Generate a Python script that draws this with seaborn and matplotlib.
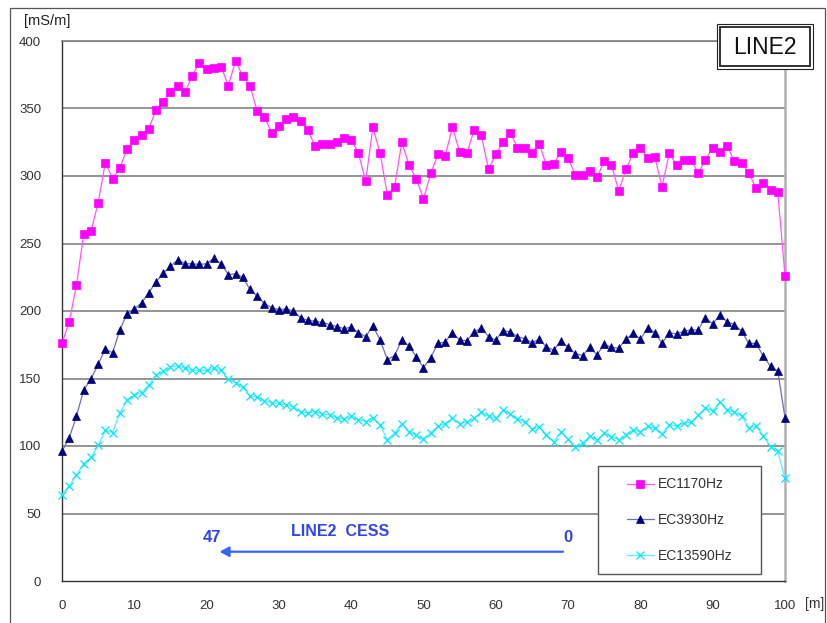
import matplotlib
matplotlib.use("Agg")
import matplotlib.pyplot as plt
from matplotlib.patches import Rectangle
from matplotlib.lines import Line2D
import seaborn as sns
import numpy as np

# Distance along the survey line [m]
distance = list(range(0, 101))

ec1170 = [176, 192, 219, 257, 259, 280, 310, 298, 306, 320,
          327, 330, 335, 349, 355, 362, 367, 362, 374, 384,
          379, 380, 381, 367, 385, 374, 367, 348, 344, 332,
          337, 342, 344, 341, 334, 322, 324, 324, 325, 328,
          327, 317, 296, 336, 317, 286, 292, 325, 308, 298,
          283, 302, 316, 315, 336, 318, 317, 334, 330, 305,
          316, 325, 332, 321, 321, 317, 324, 308, 309, 318,
          313, 301, 301, 304, 299, 311, 308, 289, 305, 317,
          321, 313, 314, 292, 317, 308, 312, 312, 302, 312,
          321, 318, 322, 311, 310, 302, 291, 295, 290, 288, 226]

ec3930 = [96, 106, 122, 141.5, 149.5, 160.5, 172, 169, 186, 198,
          201.5, 206, 213.5, 221.5, 228, 233, 238, 235, 235, 234.5,
          235, 239, 235, 227, 227.5, 225, 216, 211, 205.5, 202.5,
          201, 201.5, 200, 195, 193, 192.5, 191.5, 190, 188.5, 187,
          188, 184, 181, 189, 178.5, 164, 167, 178.5, 174, 166,
          158, 165.5, 176, 177, 184, 178.5, 178, 184.5, 187.5, 181,
          178.5, 185.5, 184.5, 181, 179.5, 176.5, 179, 173.5, 171, 178,
          173, 168.5, 167, 173, 167.5, 175.5, 173, 172.5, 179, 183.5,
          179, 187.5, 184, 176, 184, 183, 185, 186, 186, 195,
          190.5, 197, 192, 190, 185, 176, 176, 166.5, 159, 155.5, 121]

ec13590 = [64, 70.5, 78.5, 87, 91.5, 100.5, 111.5, 110, 124.5, 134,
           137.5, 139.5, 145, 152.5, 155.5, 158.5, 159.5, 157.5, 156, 156,
           156, 157.5, 156, 149.5, 147, 144, 137, 136, 133.5, 132,
           131.5, 130.5, 129, 125, 124.5, 125.5, 123.5, 123, 121, 120,
           122, 119.5, 118, 121, 115.5, 104.5, 109.5, 116.5, 110.5, 108,
           105, 110, 114.5, 116.5, 120.5, 116.5, 118, 120.5, 125, 122,
           120.5, 126.5, 123.5, 120, 118, 112.5, 114, 108.5, 103, 110.5,
           105, 99, 102, 107.5, 104.5, 109.5, 107, 104.5, 108.5, 112,
           110.5, 114.5, 113, 109, 115.5, 115, 117, 117.5, 123, 128,
           126, 132.5, 126.5, 125.5, 122, 113.5, 114.5, 107.5, 99.5, 96, 76]

series_names = ["EC1170Hz", "EC3930Hz", "EC13590Hz"]
y_ticks = [0, 50, 100, 150, 200, 250, 300, 350, 400]
x_ticks = [0, 10, 20, 30, 40, 50, 60, 70, 80, 90, 100]

sns.set_style("white")
plt.rcParams["font.family"] = ["Liberation Sans", "DejaVu Sans"]

W, H = 828, 623
fig = plt.figure(figsize=(W / 100, H / 100), dpi=100)
fig.patch.set_facecolor("white")

# plot area in pixel geometry
L, R, T, B = 62, 785, 41, 581
ax = fig.add_axes([L / W, 1 - B / H, (R - L) / W, (B - T) / H])

# outer chart border
fig.patches.append(Rectangle((10 / W, -0.01), 815 / W, 1 - 8 / H + 0.01,
                             transform=fig.transFigure, fill=False,
                             ec="#555555", lw=0.9, zorder=0))

styles = [
    dict(line="#ff55ff", face="#ff00ff", marker="s", ms=5.2, mew=0.5),
    dict(line="#6f6fb5", face="#000080", marker="^", ms=6.2, mew=0.5),
    dict(line="#55f0ff", face="#00e8ff", marker="x", ms=5.5, mew=0.9),
]
values = [ec1170, ec3930, ec13590]

handles = []
for name, vals, st in zip(series_names, values, styles):
    sns.lineplot(x=distance, y=vals, ax=ax, color=st["line"], lw=0.9,
                 marker=st["marker"], markersize=st["ms"],
                 markerfacecolor=st["face"], markeredgecolor=st["face"],
                 markeredgewidth=st["mew"], estimator=None, legend=False,
                 clip_on=False, zorder=3)
    handles.append(Line2D([], [], color=st["line"], lw=0.9, marker=st["marker"],
                          markersize=st["ms"], markerfacecolor=st["face"],
                          markeredgecolor=st["face"], markeredgewidth=st["mew"]))

ax.set_xlim(0, 100)
ax.set_ylim(0, 400)
ax.set_xticks(x_ticks)
ax.set_yticks(y_ticks)
ax.set_xlabel("")
ax.set_ylabel("")

for y in y_ticks[1:]:
    ax.axhline(y, color="#777777", lw=1.1, zorder=1)

for side in ["left", "bottom"]:
    ax.spines[side].set_color("#333333")
    ax.spines[side].set_linewidth(1.0)
ax.spines["top"].set_color("#777777")
ax.spines["top"].set_linewidth(1.1)
ax.spines["right"].set_color("#b0b0b0")
ax.spines["right"].set_linewidth(1.8)

ax.tick_params(axis="x", direction="in", length=3, width=0.8, color="#333333",
               pad=14, labelsize=9.5, labelcolor="#333333")
ax.tick_params(axis="y", length=0, pad=15, labelsize=9.5, labelcolor="#333333")

# unit labels
fig.text(24 / W, 1 - 21 / H, "[mS/m]", fontsize=10.5, color="#222222",
         ha="left", va="center")
fig.text(815 / W, 1 - 604 / H, "[m]", fontsize=10, color="#333333",
         ha="center", va="center")

# title box with double border
fig.patches.append(Rectangle((717 / W, 1 - 69 / H), 96 / W, 45 / H,
                             transform=fig.transFigure, fc="white",
                             ec="#222222", lw=0.8, zorder=5))
fig.patches.append(Rectangle((720 / W, 1 - 66 / H), 90 / W, 39 / H,
                             transform=fig.transFigure, fill=False,
                             ec="#222222", lw=1.3, zorder=6))
fig.text(765 / W, 1 - 47 / H, "LINE2", fontsize=16.5, color="#111111",
         ha="center", va="center", zorder=7)

# legend with white framed box
lx0, ly0, lx1, ly1 = 598, 466, 761, 574
ax.add_patch(Rectangle(((lx0 - L) / (R - L), (B - ly1) / (B - T)),
                       (lx1 - lx0) / (R - L), (ly1 - ly0) / (B - T),
                       transform=ax.transAxes, fc="white", ec="#555555",
                       lw=1.0, zorder=8))
leg = ax.legend(handles, series_names,
                loc="center",
                bbox_to_anchor=((lx0 - L) / (R - L), (B - ly1) / (B - T),
                                (lx1 - lx0) / (R - L), (ly1 - ly0) / (B - T)),
                frameon=False, fontsize=10, labelspacing=1.55,
                handlelength=2.0, handletextpad=0.25, borderpad=0)
leg.set_zorder(9)
for t in leg.get_texts():
    t.set_color("#333333")

# survey direction annotation
blue = "#3344ee"
ax.annotate("", xy=(21.8, 21.7), xytext=(69.3, 21.7),
            arrowprops=dict(arrowstyle="-|>,head_length=0.55,head_width=0.3",
                            color="#3366ff", lw=1.6, shrinkA=0, shrinkB=0),
            zorder=4)
ax.text(20.8, 32.2, "47", color=blue, fontsize=12, fontweight="bold",
        ha="center", va="center")
ax.text(70.0, 32.2, "0", color=blue, fontsize=12, fontweight="bold",
        ha="center", va="center")
ax.text(38.5, 37.0, "LINE2  CESS", color=blue, fontsize=11.5,
        fontweight="bold", ha="center", va="center")

fig.savefig("out.png", dpi=100, facecolor="white")
